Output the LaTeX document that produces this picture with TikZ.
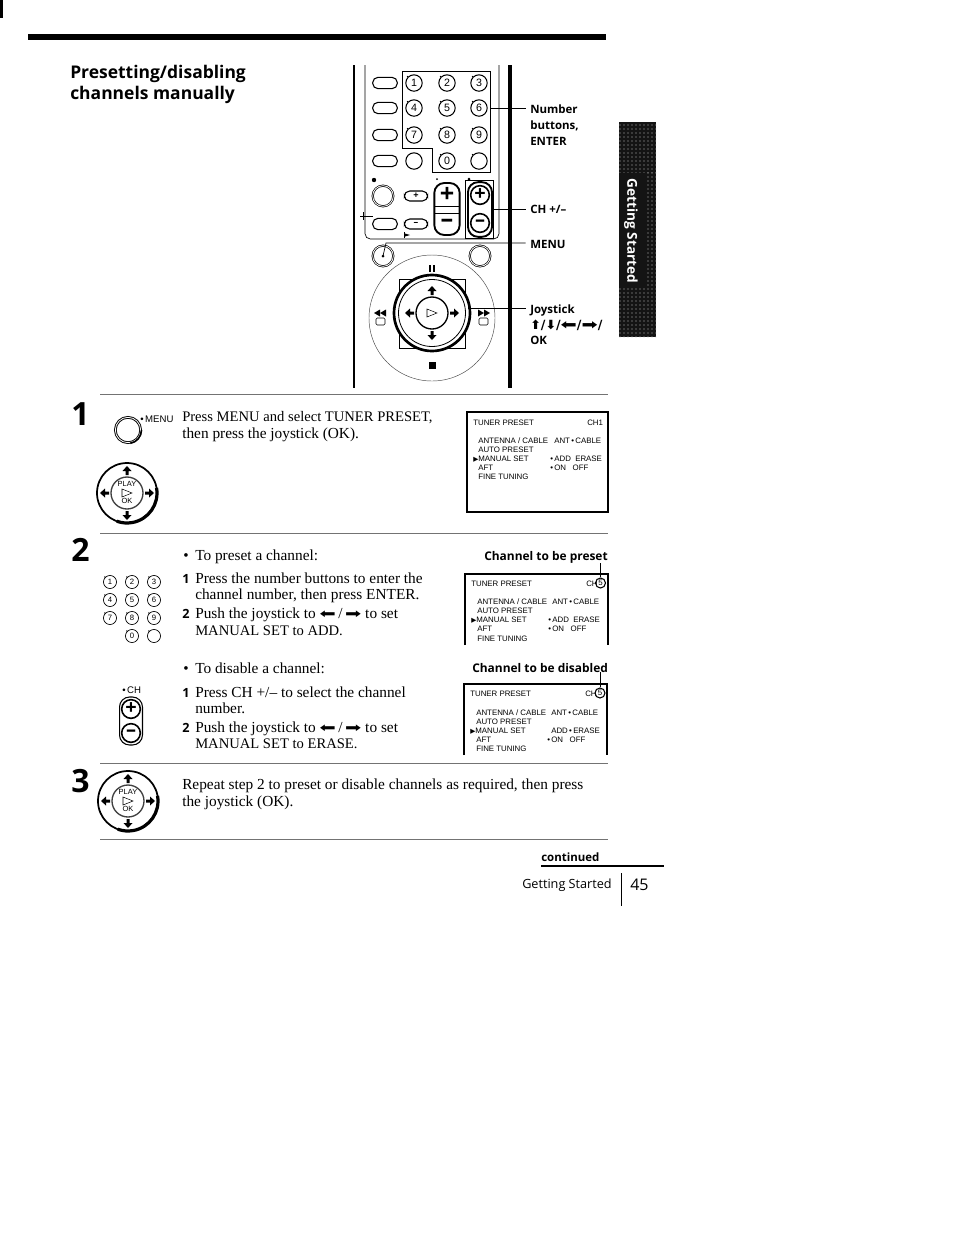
\documentclass[tikz,border=0pt]{standalone}
\usepackage{fontspec}
\setmainfont{Liberation Serif}
\setsansfont{Open Sans}
\newfontfamily\osdfont{Liberation Sans}
\newfontfamily\symfont{DejaVu Sans}
\usetikzlibrary{patterns}

\tikzset{
	bodytxt/.style={anchor=base west, inner sep=0pt, font=\fontsize{11.5}{13}\selectfont},
	capstxt/.style={anchor=base west, inner sep=0pt, font=\fontsize{10.95}{13}\selectfont},
	headtxt/.style={anchor=base west, inner sep=0pt, font=\sffamily\bfseries\fontsize{13.1}{15}\selectfont},
	steptxt/.style={anchor=base west, inner sep=0pt, font=\sffamily\bfseries\fontsize{24}{26}\selectfont},
	subnum/.style={anchor=base west, inner sep=0pt, font=\sffamily\bfseries\fontsize{9.5}{12}\selectfont},
	calltxt/.style={anchor=base west, inner sep=0pt, font=\sffamily\fontsize{9.5}{11}\selectfont},
	callbold/.style={anchor=base west, inner sep=0pt, font=\sffamily\bfseries\fontsize{8.6}{11}\selectfont},
	screenhead/.style={anchor=base west, inner sep=0pt, font=\sffamily\bfseries\fontsize{8.95}{11}\selectfont},
	osd/.style={anchor=base west, inner sep=0pt, font=\osdfont\fontsize{5.9}{7}\selectfont},
	numkey/.style={circle, draw, line width=0.8pt, inner sep=0pt, minimum size=12.3pt, font=\osdfont\fontsize{8}{9}\selectfont,
		label={[circle, fill=black, inner sep=0.4pt, label distance=-0.5pt]135:{}}},
	smallkey/.style={numkey, line width=0.5pt, minimum size=9.8pt, font=\osdfont\fontsize{5.8}{7}\selectfont},
	pillkey/.style={draw, line width=0.8pt, rounded corners=4pt, inner sep=0pt, minimum width=18.5pt, minimum height=8.5pt},
	tinypill/.style={pillkey, minimum width=17.5pt, minimum height=7.5pt, font=\sffamily\bfseries\fontsize{7}{7}\selectfont},
	roundkey/.style={circle, draw, double, double distance=0.6pt, line width=0.5pt, inner sep=0pt, minimum size=15.5pt},
	signkey/.style={circle, draw, line width=1.2pt, inner sep=0pt, minimum size=14pt, font=\sffamily\bfseries\fontsize{15}{15}\selectfont},
	rocker/.style={draw, line width=1.4pt, rounded corners=7.5pt, inner sep=0pt},
	leader/.style={line width=0.5pt},
	sepline/.style={black!55, line width=0.5pt}
}

% the four arrows of a joystick, #1 #2 is the middle
\newcommand{\padkey}[2]{
	\begin{scope}[shift={(#1,#2)}]
		\foreach \ang in {0,90,180,270}
			\fill[rotate=\ang] (27,0) -- (22,-4.5) -- (22,-1.5) -- (18,-1.5) -- (18,1.5) -- (22,1.5) -- (22,4.5) -- cycle;
	\end{scope}
}
\newcommand{\blkarrow}[1]{{\symfont\scalebox{1}[0.7]{\fontsize{14.5}{15}\selectfont #1}}}

\begin{document}
\begin{tikzpicture}[x=0.75pt, y=-0.75pt]
	\useasboundingbox (0,0) rectangle (954,1233);
	\fill[white] (0,0) rectangle (954,1233);

	% page furniture
	\fill (0,0) rectangle (3,18);
	\fill (28,34) rectangle (606,40);
	\fill[black!92] (619,122) rectangle (656,337);
	\fill[pattern=dots, pattern color=white!75!black] (619,122) rectangle (656,172);
	\fill[pattern=dots, pattern color=white!75!black] (619,287) rectangle (656,337);
	\fill[pattern=dots, pattern color=white!75!black] (646,172) rectangle (656,287);
	\node[rotate=-90, inner sep=0pt, text=white, font=\sffamily\bfseries\fontsize{10.2}{12}\selectfont] (tabtxt) at (631,231) {Getting Started};

	% heading
	\node[headtxt] (headA) at (70,78) {Presetting/disabling};
	\node[headtxt] (headB) at (70,99) {channels manually};

	% remote control, bars and panel
	\draw[line width=1.5pt] (354,65) -- (354,388);
	\draw[line width=3pt] (510,65) -- (510,388);
	\draw[line width=0.5pt, rounded corners=4pt] (365,65) -- (365,239) -- (499,239) -- (499,65);

	% left hand keys
	\node[pillkey] (pillA) at (385,83) {};
	\node[pillkey] (pillB) at (385,108) {};
	\node[pillkey] (pillC) at (385,135) {};
	\node[pillkey] (pillD) at (385,161) {};
	\node[pillkey] (pillE) at (385,224) {};
	\node[roundkey] (roundA) at (383,196) {};
	\fill (374,180) circle [radius=2.2];
	\fill (437,179) circle [radius=1];
	\fill (469,179) circle [radius=1.5];
	\node[tinypill] (plusA) at (416,196) {+};
	\node[tinypill] (minusA) at (416,224) {--};
	\node[rocker, minimum width=19pt, minimum height=39pt] (rockA) at (447,209) {};
	\node[inner sep=0pt, font=\sffamily\bfseries\fontsize{19}{19}\selectfont] (rockAp) at (447,195) {+};
	\node[inner sep=0pt, font=\sffamily\bfseries\fontsize{19}{19}\selectfont] (rockAm) at (447,223) {--};
	\draw[line width=0.6pt] (435,206) -- (459,206);
	\draw[line width=0.6pt] (435,213) -- (459,213);

	% number keys
	\node[numkey] (keyA) at (414,83) {1};
	\node[numkey] (keyB) at (447,83) {2};
	\node[numkey] (keyC) at (479,83) {3};
	\node[numkey] (keyD) at (414,108) {4};
	\node[numkey] (keyE) at (447,108) {5};
	\node[numkey] (keyF) at (479,108) {6};
	\node[numkey] (keyG) at (414,135) {7};
	\node[numkey] (keyH) at (447,135) {8};
	\node[numkey] (keyI) at (479,135) {9};
	\node[circle, draw, line width=0.8pt, inner sep=0pt, minimum size=12.3pt] (keyJ) at (414,161) {};
	\node[numkey] (keyK) at (447,161) {0};
	\node[numkey] (keyL) at (479,161) {};
	\draw[line width=0.5pt] (402,71) -- (490,71) -- (490,172) -- (432,172) -- (432,148) -- (402,148) -- cycle;

	% CH keys
	\draw[line width=0.6pt] (465,180) rectangle (493,238);
	\node[rocker, minimum width=18pt, minimum height=41pt] (rockB) at (480,209.5) {};
	\node[signkey] (chPlus) at (480,195) {+};
	\node[signkey] (chMinus) at (480,223) {--};

	% lower keys
	\node[roundkey] (menuKey) at (383,256) {};
	\node[roundkey] (rightKey) at (480,256) {};
	\draw[line width=0.7pt] (363,212) -- (363,220);
	\draw[line width=0.5pt] (360,216) -- (373,216);
	\fill (404,232) rectangle (405,238);
	\fill (405,233.5) -- (410,235) -- (405,236.5) -- cycle;

	% joystick on the remote
	\draw[line width=0.35pt, black!70] (432,318) circle [radius=63];
	\draw[line width=0.6pt] (399,279) rectangle (465,348);
	\fill[white] (432,313) circle [radius=38];
	\draw[line width=2pt] (432,313) circle [radius=38];
	\draw[line width=0.6pt] (432,313) circle [radius=33.5];
	\draw[line width=1pt] (432,313) circle [radius=16];
	\padkey{432}{313}
	\draw[line width=0.4pt] (427,309) -- (437,313) -- (427,317) -- cycle;
	\fill (429,265) rectangle (431,272);
	\fill (433,265) rectangle (435,272);
	\fill (429,362) rectangle (436,369);
	\fill (374,313) -- (380,309.5) -- (380,316.5) -- cycle;
	\fill (380,313) -- (386,309.5) -- (386,316.5) -- cycle;
	\fill (478,309.5) -- (484,313) -- (478,316.5) -- cycle;
	\fill (484,309.5) -- (490,313) -- (484,316.5) -- cycle;
	\draw[line width=0.4pt, rounded corners=1pt] (376,318) rectangle (385,325);
	\draw[line width=0.4pt, rounded corners=1pt] (479,318) rectangle (488,325);

	% call outs
	\node[callbold] (numA) at (530,113) {Number};
	\node[callbold] (numB) at (530,129) {buttons,};
	\node[callbold] (numC) at (530,145) {ENTER};
	\node[callbold] (chLabel) at (530,213) {CH +/--};
	\node[callbold] (menuLabel) at (530,248) {MENU};
	\node[callbold] (joyA) at (530,313) {Joystick};
	\node[callbold] (joyB) at (530,329) {\symfont\fontsize{9.5}{10}\selectfont⬆/⬇/\blkarrow{⬅}/\blkarrow{➡}/};
	\node[callbold] (joyC) at (530,344) {OK};
	\coordinate (numEnd) at (490,108);
	\coordinate (chEnd) at (493,209);
	\coordinate (menuMid) at (386,243);
	\coordinate (joyEnd) at (468,308);
	\coordinate (numTip) at (525.5,108);
	\coordinate (chTip) at (525.5,209);
	\coordinate (menuTip) at (525.5,243);
	\coordinate (joyTip) at (525.5,308);
	\draw[leader] (numEnd) -- (numTip);
	\draw[leader] (chEnd) -- (chTip);
	\draw[leader] (menuKey.center) -- (menuMid) -- (menuTip);
	\fill (menuKey.center) circle [radius=1.5];
	\draw[leader] (joyEnd) -- (joyTip);

	% separators
	\draw[sepline] (100,394) -- (608,394);
	\draw[sepline] (100,533) -- (608,533);
	\draw[sepline] (100,763) -- (608,763);
	\draw[sepline] (100,839) -- (608,839);

	% step 1
	\node[steptxt] (stepA) at (71,425) {1};
	\node[roundkey, minimum size=19pt, line width=0.7pt] (menuKeyB) at (128,430) {};
	\draw[line width=1.2pt] (128,430) ++(0:13.5) arc [start angle=0, end angle=80, radius=13.5];
	\node[anchor=base west, inner sep=0pt, font=\osdfont\fontsize{7.2}{9}\selectfont] (menuTag) at (140,422) {•\,MENU};
	\draw[line width=1.3pt] (127,493) circle [radius=30];
	\draw[line width=2.4pt] (127,493) ++(-10:30) arc [start angle=-10, end angle=110, radius=30];
	\draw[line width=1pt, black!75] (127,493) circle [radius=16];
	\padkey{127}{493}
	\node[inner sep=0pt, font=\osdfont\fontsize{5.6}{6}\selectfont] (playA) at (127,484) {PLAY};
	\node[inner sep=0pt, font=\osdfont\fontsize{5.6}{6}\selectfont] (okA) at (127,501) {OK};
	\draw[line width=0.4pt] (122,489) -- (132,493) -- (122,497) -- cycle;
	\node[capstxt] (txtAa) at (182,421) {Press MENU and select TUNER PRESET,};
	\node[bodytxt] (txtAb) at (182,438) {then press the joystick (OK).};

	% first screen
	\draw[line width=1.1pt] (467,412) rectangle (608,512);
	\node[osd] (sAa) at (473,425) {TUNER PRESET};
	\node[osd] (sAb) at (587,425) {CH1};
	\node[osd] (sAc) at (478,443) {ANTENNA / CABLE};
	\node[osd] (sAd) at (554,443) {ANT\,•\,CABLE};
	\node[osd] (sAe) at (478,452) {AUTO PRESET};
	\node[osd] (sAf) at (473,461) {\symfont\fontsize{5}{6}\selectfont ▶\osdfont\fontsize{5.9}{7}\selectfont MANUAL SET};
	\node[osd] (sAg) at (550,461) {•\,ADD\ \ ERASE};
	\node[osd] (sAh) at (478,470) {AFT};
	\node[osd] (sAi) at (550,470) {•\,ON\ \ \ OFF};
	\node[osd] (sAj) at (478,479) {FINE TUNING};

	% step 2
	\node[steptxt] (stepB) at (71,561) {2};
	\node[smallkey] (kA) at (110,582) {1};
	\node[smallkey] (kB) at (132,582) {2};
	\node[smallkey] (kC) at (154,582) {3};
	\node[smallkey] (kD) at (110,600) {4};
	\node[smallkey] (kE) at (132,600) {5};
	\node[smallkey] (kF) at (154,600) {6};
	\node[smallkey] (kG) at (110,618) {7};
	\node[smallkey] (kH) at (132,618) {8};
	\node[smallkey] (kI) at (154,618) {9};
	\node[smallkey] (kK) at (132,636) {0};
	\node[smallkey] (kL) at (154,636) {};

	\node[bodytxt] (dotB) at (183,560) {•};
	\node[bodytxt] (txtBa) at (195,560) {To preset a channel:};
	\node[subnum] (oneB) at (182,583) {1};
	\node[bodytxt] (txtBb) at (195,583) {Press the number buttons to enter the};
	\node[bodytxt] (txtBc) at (195,599) {channel number, then press ENTER.};
	\node[subnum] (twoB) at (182,618) {2};
	\node[bodytxt] (txtBd) at (195,618) {Push the joystick to \blkarrow{⬅}\,/\,\blkarrow{➡} to set};
	\node[capstxt] (txtBe) at (195,635) {MANUAL SET to ADD.};

	\node[bodytxt] (dotC) at (183,673) {•};
	\node[bodytxt] (txtCa) at (195,673) {To disable a channel:};
	\node[subnum] (oneC) at (182,697) {1};
	\node[bodytxt] (txtCb) at (195,697) {Press CH +/-- to select the channel};
	\node[bodytxt] (txtCc) at (195,713) {number.};
	\node[subnum] (twoC) at (182,732) {2};
	\node[bodytxt] (txtCd) at (195,732) {Push the joystick to \blkarrow{⬅}\,/\,\blkarrow{➡} to set};
	\node[capstxt] (txtCe) at (195,748) {MANUAL SET to ERASE.};

	% CH key of step 2
	\node[anchor=base west, inner sep=0pt, font=\osdfont\fontsize{7.2}{9}\selectfont] (chTag) at (122,693) {•\,CH};
	\node[rocker, line width=0.8pt, minimum width=17.2pt, minimum height=36pt] (rockC) at (131,721) {};
	\node[signkey] (cPlus) at (131,709) {+};
	\node[signkey] (cMinus) at (131,733) {--};

	% second screen
	\node[screenhead] (presetLabel) at (484,560) {Channel to be preset};
	\draw[line width=1.1pt] (465,645) -- (465,574) -- (608,574) -- (608,645);
	\node[osd] (sBa) at (471,586) {TUNER PRESET};
	\node[osd] (sBb) at (586,586) {CH};
	\node[circle, draw, line width=0.8pt, inner sep=0pt, minimum size=7.5pt, font=\osdfont\fontsize{5.9}{7}\selectfont] (sBc) at (600.5,583) {5};
	\draw[line width=0.5pt] (presetLabel.south -| sBc) -- (sBc);
	\node[osd] (sBd) at (477,604) {ANTENNA / CABLE};
	\node[osd] (sBe) at (552,604) {ANT\,•\,CABLE};
	\node[osd] (sBf) at (477,613) {AUTO PRESET};
	\node[osd] (sBg) at (471,622) {\symfont\fontsize{5}{6}\selectfont ▶\osdfont\fontsize{5.9}{7}\selectfont MANUAL SET};
	\node[osd] (sBh) at (548,622) {•\,ADD\ \ ERASE};
	\node[osd] (sBi) at (477,631) {AFT};
	\node[osd] (sBj) at (548,631) {•\,ON\ \ \ OFF};
	\node[osd] (sBk) at (477,641) {FINE TUNING};

	% third screen
	\node[screenhead] (disableLabel) at (472,672) {Channel to be disabled};
	\draw[line width=1.1pt] (464,755) -- (464,684) -- (607,684) -- (607,755);
	\node[osd] (sCa) at (470,696) {TUNER PRESET};
	\node[osd] (sCb) at (585,696) {CH};
	\node[circle, draw, line width=0.8pt, inner sep=0pt, minimum size=7.5pt, font=\osdfont\fontsize{5.9}{7}\selectfont] (sCc) at (600,693) {5};
	\draw[line width=0.5pt] (disableLabel.south -| sCc) -- (sCc);
	\node[osd] (sCd) at (476,715) {ANTENNA / CABLE};
	\node[osd] (sCe) at (551,715) {ANT\,•\,CABLE};
	\node[osd] (sCf) at (476,724) {AUTO PRESET};
	\node[osd] (sCg) at (470,733) {\symfont\fontsize{5}{6}\selectfont ▶\osdfont\fontsize{5.9}{7}\selectfont MANUAL SET};
	\node[osd] (sCh) at (551,733) {ADD\,•\,ERASE};
	\node[osd] (sCi) at (476,742) {AFT};
	\node[osd] (sCj) at (547,742) {•\,ON\ \ \ OFF};
	\node[osd] (sCk) at (476,751) {FINE TUNING};

	% step 3
	\node[steptxt] (stepC) at (71,792) {3};
	\draw[line width=1.3pt] (128,801) circle [radius=30];
	\draw[line width=2.4pt] (128,801) ++(-10:30) arc [start angle=-10, end angle=110, radius=30];
	\draw[line width=1pt, black!75] (128,801) circle [radius=16];
	\padkey{128}{801}
	\node[inner sep=0pt, font=\osdfont\fontsize{5.6}{6}\selectfont] (playB) at (128,792) {PLAY};
	\node[inner sep=0pt, font=\osdfont\fontsize{5.6}{6}\selectfont] (okB) at (128,809) {OK};
	\draw[line width=0.4pt] (123,797) -- (133,801) -- (123,805) -- cycle;
	\node[bodytxt] (txtDa) at (182,789) {Repeat step 2 to preset or disable channels as required, then press};
	\node[bodytxt] (txtDb) at (182,806) {the joystick (OK).};

	% foot of the page
	\node[callbold] (contTxt) at (541,861) {continued};
	\draw[line width=1.1pt] (541,866) -- (664,866);
	\node[calltxt] (footTxt) at (522,888) {Getting Started};
	\draw[line width=0.6pt] (621,873) -- (621,906);
	\node[anchor=base west, inner sep=0pt, font=\sffamily\fontsize{12}{14}\selectfont] (pageNo) at (630,890) {45};
\end{tikzpicture}
\end{document}
